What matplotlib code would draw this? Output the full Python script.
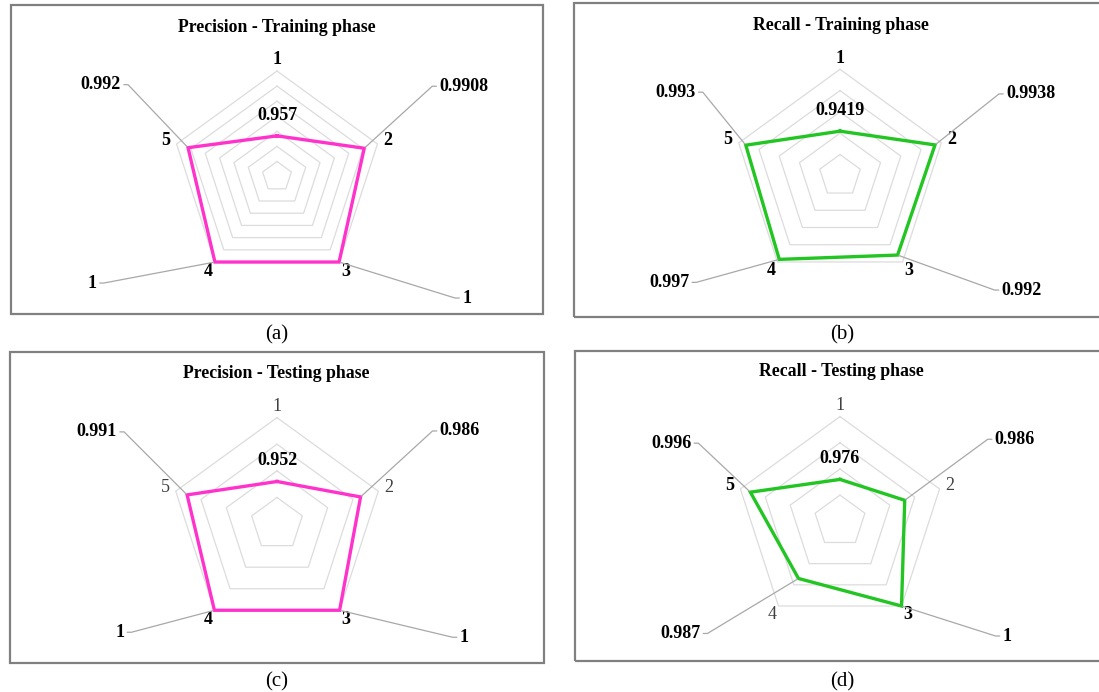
import numpy as np
import matplotlib
matplotlib.use("Agg")
import matplotlib.pyplot as plt
from matplotlib.patches import Rectangle

plt.rcParams['font.family'] = ['Liberation Serif', 'DejaVu Serif']

categories = ['1', '2', '3', '4', '5']
prec_train = [0.957, 0.9908, 1, 1, 0.992]
recall_train = [0.9419, 0.9938, 0.992, 0.997, 0.993]
prec_test = [0.952, 0.986, 1, 1, 0.991]
recall_test = [0.976, 0.986, 1, 0.987, 0.996]

titles = ['Precision - Training phase', 'Recall - Training phase',
          'Precision - Testing phase', 'Recall - Testing phase']
captions = ['(a)', '(b)', '(c)', '(d)']
r_min = [0.93, 0.90, 0.92, 0.96]
r_step = [0.01, 0.02, 0.02, 0.01]

PINK = '#ff33cc'
GREEN = '#22c522'
RING = '#dcdcdc'
LEADER = '#a8a8a8'
FRAME = '#808080'

W, H = 1099, 692
fig = plt.figure(figsize=(W / 100, H / 100), dpi=100)


def fx(px):
    return px / W


def fy(py):
    return 1 - py / H


# pixel layout of each panel: radar centre/radius, frame box, title, caption,
# label offsets (dx, dy in pixels, up is positive) from each data point
panels = [
    dict(values=prec_train, color=PINK, center=(277, 176.6), radius=105.6,
         box=(11, 5, 543, 314), title=(277, 27), caption=(277, 335),
         bold=categories,
         offsets=[(0, 20), (75, 62), (123, -36), (-118, -21), (-67, 63)]),
    dict(values=recall_train, color=GREEN, center=(840, 175.8), radius=106.5,
         box=(574, 3, 1110, 317), title=(841, 25), caption=(842, 335),
         bold=categories,
         offsets=[(0, 21), (71, 51), (104, -35), (-90, -23), (-50, 53)]),
    dict(values=prec_test, color=PINK, center=(277, 524.1), radius=106.5,
         box=(10, 352, 544, 663), title=(276.5, 373), caption=(277, 682),
         bold=['3', '4'],
         offsets=[(0, 21), (79, 66), (120, -27), (-90, -22), (-70, 63)]),
    dict(values=recall_test, color=GREEN, center=(840, 521.3), radius=104.7,
         box=(575, 351, 1110, 661), title=(841, 372), caption=(842, 682),
         bold=['3', '5'],
         offsets=[(0, 21), (90, 61), (101, -30), (-98, -55), (-59, 49)]),
]

theta = np.linspace(0, 2 * np.pi, len(categories), endpoint=False)
theta_closed = np.append(theta, theta[0])

for k, p in enumerate(panels):
    cx, cy = p['center']
    R = p['radius']
    ax = fig.add_axes([fx(cx - R), fy(cy + R), 2 * R / W, 2 * R / H],
                      projection='polar')
    ax.set_theta_offset(np.pi / 2)
    ax.set_theta_direction(-1)
    ax.set_ylim(r_min[k], 1.0)
    ax.set_facecolor('none')
    ax.spines['polar'].set_visible(False)
    ax.grid(False)
    ax.set_yticks([])

    # pentagon gridlines
    levels = np.arange(r_min[k] + r_step[k], 1.0 + r_step[k] / 2, r_step[k])
    for lvl in levels:
        ax.plot(theta_closed, [lvl] * len(theta_closed), color=RING, lw=0.9,
                clip_on=False, zorder=1)

    vals = np.array(p['values'], dtype=float)
    ax.plot(theta_closed, np.append(vals, vals[0]), color=p['color'], lw=2.4,
            solid_joinstyle='miter', clip_on=False, zorder=3)

    ax.set_xticks(theta)
    ax.set_xticklabels(categories)
    ax.tick_params(axis='x', pad=-2.5, labelsize=13)
    for lab in ax.get_xticklabels():
        if lab.get_text() in p['bold']:
            lab.set_fontweight('bold')
            lab.set_color('black')
        else:
            lab.set_color('#404040')

    # value labels with leader lines
    for i, (v, (dx, dy)) in enumerate(zip(vals, p['offsets'])):
        txt = f'{v:g}'
        if i == 0:
            ax.annotate(txt, xy=(theta[i], v), xytext=(dx, dy),
                        textcoords='offset pixels', ha='center', va='center',
                        fontsize=13, fontweight='bold', zorder=5)
            continue
        right = dx > 0
        ax.annotate(txt, xy=(theta[i], v), xytext=(dx, dy),
                    textcoords='offset pixels',
                    ha='left' if right else 'right', va='center',
                    fontsize=13, fontweight='bold', zorder=5,
                    annotation_clip=False,
                    arrowprops=dict(arrowstyle='-', color=LEADER, lw=0.9,
                                    shrinkA=0, shrinkB=1,
                                    relpos=(0, 0.5) if right else (1, 0.5),
                                    connectionstyle='arc,angleA=%d,armA=7,'
                                    'angleB=0,armB=0,rad=0'
                                    % (180 if right else 0)))

    x0, y0, x1, y1 = p['box']
    fig.add_artist(Rectangle((fx(x0), fy(y1)), fx(x1) - fx(x0), fy(y0) - fy(y1),
                             transform=fig.transFigure, fill=False,
                             ec=FRAME, lw=1.6))
    fig.text(fx(p['title'][0]), fy(p['title'][1]), titles[k], ha='center',
             va='center', fontsize=12.8, fontweight='bold')
    fig.text(fx(p['caption'][0]), fy(p['caption'][1]), captions[k],
             ha='center', va='center', fontsize=15)

fig.savefig('out.png', dpi=100)
